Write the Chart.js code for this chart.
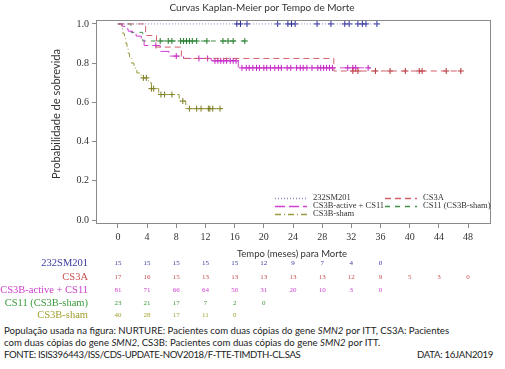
<!DOCTYPE html>
<html>
<head>
<meta charset="utf-8">
<script src="https://cdn.jsdelivr.net/npm/chart.js@4.4.0/dist/chart.umd.min.js"></script>
<style>
    body { margin: 0; background: #fff; }
    #wrap { position: relative; width: 505px; height: 369px; overflow: hidden; }
    #chart { position: absolute; left: 0; top: 0; }
    .note { position: absolute; left: 4px; font-family: Lato, 'Liberation Sans', sans-serif; font-size: 9.6px; color: #222; white-space: nowrap; }
</style>
</head>
<body>
<div id="wrap">
    <canvas id="chart" width="505" height="325"></canvas>
    <div class="note" style="top:325px">População usada na figura: NURTURE: Pacientes com duas cópias do gene <i>SMN2</i> por ITT, CS3A: Pacientes</div>
    <div class="note" style="top:337px">com duas cópias do gene <i>SMN2</i>, CS3B: Pacientes com duas cópias do gene <i>SMN2</i> por ITT.</div>
    <div class="note" style="top:349px; letter-spacing:-0.35px">FONTE: ISIS396443/ISS/CDS-UPDATE-NOV2018/F-TTE-TIMDTH-CL.SAS</div>
    <div class="note" style="top:349px; left:auto; right:12px; letter-spacing:-0.3px">DATA: 16JAN2019</div>
</div>
<script>
/**
 * Marcas do eixo X (meses) e do eixo Y.
 */
const X_TICKS = [0, 4, 8, 12, 16, 20, 24, 28, 32, 36, 40, 44, 48];
const Y_TICKS = [0, 0.2, 0.4, 0.6, 0.8, 1.0];

/**
 * Curvas em degraus: tempo do evento e sobrevida logo após.
 */
const NURTURE_TIMES = [0, 35.5];
const NURTURE_SURV = [1, 1];
const NURTURE_CENSOR = [16.3, 16.8, 17.7, 21.9, 23.3, 23.8, 24.3, 27.3, 29.2, 31.1, 31.7, 32.9, 33.5, 34.0, 35.5];

const CS3A_TIMES = [0, 3.8, 5.3, 8.7, 29.6, 47.0];
const CS3A_SURV = [1, 0.941, 0.882, 0.824, 0.760, 0.760];
const CS3A_CENSOR = [32.2, 32.9, 35.3, 37.3, 39.4, 41.3, 41.7, 45.0, 47.0];

const ACTIVE_TIMES = [0, 0.6, 1.0, 1.4, 2.0, 2.5, 3.2, 3.6, 5.8, 7.0, 9.0, 12.8, 16.5, 34.6];
const ACTIVE_SURV = [1, 0.988, 0.975, 0.963, 0.95, 0.938, 0.92, 0.89, 0.86, 0.836, 0.824, 0.812, 0.776, 0.776];
const ACTIVE_CENSOR = [5.2, 8.0, 11.1, 12.3, 13.3, 13.7, 14.1, 14.5, 14.9, 15.4, 15.8, 16.2,
    17.0, 17.6, 18.0, 18.5, 19.0, 19.4, 20.0, 20.4, 20.9, 21.5, 22.0, 22.4, 23.2, 23.7,
    24.5, 25.0, 25.4, 25.9, 26.6, 27.4, 27.8, 28.2, 28.6, 29.0, 29.4, 31.5, 32.2, 32.6, 34.3];

const CS11_TIMES = [0, 1.8, 3.4, 17.7];
const CS11_SURV = [1, 0.957, 0.913, 0.913];
const CS11_CENSOR = [5.8, 6.9, 7.4, 8.6, 9.0, 9.4, 9.8, 10.2, 10.8, 12.2, 14.4, 15.1, 15.8, 17.4];

const SHAM_TIMES = [0, 0.5, 0.7, 0.9, 1.1, 1.25, 1.4, 1.6, 1.9, 2.2, 2.6, 3.2, 4.2, 4.6, 5.6, 8.4, 9.3, 14.0];
const SHAM_SURV = [1, 0.975, 0.95, 0.925, 0.90, 0.875, 0.85, 0.825, 0.80, 0.775, 0.75, 0.725, 0.70, 0.67, 0.64, 0.607, 0.568, 0.568];
const SHAM_CENSOR = [3.5, 3.9, 4.6, 4.9, 5.9, 6.4, 7.4, 8.9, 9.8, 10.8, 11.4, 12.4, 12.6, 13.0, 14.0];

/**
 * Número em risco por grupo (nos meses de X_TICKS).
 */
const RISK_NURTURE = [15, 15, 15, 15, 15, 12, 9, 7, 4, 0];
const RISK_CS3A = [17, 16, 15, 13, 13, 13, 13, 13, 12, 9, 5, 3, 0];
const RISK_ACTIVE = [81, 71, 66, 64, 50, 31, 20, 10, 3, 0];
const RISK_CS11 = [23, 21, 17, 7, 2, 0];
const RISK_SHAM = [40, 28, 17, 11, 0];

const SERIF = "'Liberation Serif', 'DejaVu Serif', serif";
const SANS = "Lato, 'Liberation Sans', sans-serif";

const GROUPS = [
    {label: '232SM201', times: NURTURE_TIMES, surv: NURTURE_SURV, censor: NURTURE_CENSOR, risk: RISK_NURTURE,
        line: '#8a8ac8', mark: '#2a2a9a', text: '#3a3aa0', dash: [1, 2]},
    {label: 'CS3A', times: CS3A_TIMES, surv: CS3A_SURV, censor: CS3A_CENSOR, risk: RISK_CS3A,
        line: '#d0606a', mark: '#b8323a', text: '#c85050', dash: [6, 4]},
    {label: 'CS3B-active + CS11', times: ACTIVE_TIMES, surv: ACTIVE_SURV, censor: ACTIVE_CENSOR, risk: RISK_ACTIVE,
        line: '#d040d0', mark: '#c020c0', text: '#cc40cc', dash: [10, 4]},
    {label: 'CS11 (CS3B-sham)', times: CS11_TIMES, surv: CS11_SURV, censor: CS11_CENSOR, risk: RISK_CS11,
        line: '#40904a', mark: '#1f7a28', text: '#3a9a3a', dash: [5, 5]},
    {label: 'CS3B-sham', times: SHAM_TIMES, surv: SHAM_SURV, censor: SHAM_CENSOR, risk: RISK_SHAM,
        line: '#9a9a40', mark: '#7a7a20', text: '#a0a030', dash: [6, 3, 1, 3]}
];

/**
 * Sobrevida no tempo t (função em degraus).
 */
const survAt = (times, surv, t) => {
    let s = surv[0];
    for (let i = 0; i < times.length; i++) {
        if (times[i] <= t) s = surv[i];
    }
    return s;
};

const datasets = [];
GROUPS.forEach((g) => {
    datasets.push({
        data: g.times.map((t, i) => ({x: t, y: g.surv[i]})),
        showLine: true,
        stepped: 'before',
        borderColor: g.line,
        borderDash: g.dash,
        borderWidth: 1,
        pointRadius: 0
    });
    datasets.push({
        data: g.censor.map((t) => ({x: t, y: survAt(g.times, g.surv, t)})),
        showLine: false,
        pointStyle: 'cross',
        pointRadius: 3,
        borderColor: g.mark,
        borderWidth: 1
    });
});

/**
 * Moldura, títulos, legenda e tabela de número em risco.
 */
const decorPlugin = {
    id: 'decor',
    beforeDatasetsDraw(chart) {
        const {ctx, chartArea: a} = chart;
        ctx.save();
        ctx.strokeStyle = '#8a8a8a';
        ctx.lineWidth = 1;
        ctx.strokeRect(a.left + 0.5, a.top + 0.5, a.right - a.left, a.bottom - a.top);
        ctx.restore();
    },
    afterDraw(chart) {
        const {ctx} = chart;
        const xs = chart.scales.x;
        ctx.save();
        ctx.fillStyle = '#333';
        ctx.textAlign = 'center';
        ctx.textBaseline = 'middle';
        ctx.font = `10px ${SANS}`;
        ctx.fillText('Curvas Kaplan-Meier por Tempo de Morte', 262, 8);
        ctx.font = `9.5px ${SANS}`;
        ctx.fillText('Tempo (meses) para Morte', 292, 254);

        ctx.save();
        ctx.translate(56, 114);
        ctx.rotate(-Math.PI / 2);
        ctx.font = `11px ${SANS}`;
        ctx.fillText('Probabilidade de sobrevida', 0, 0);
        ctx.restore();

        // legenda
        const legend = [
            [0, 275, 198], [2, 275, 206], [4, 275, 214],
            [1, 385, 198], [3, 385, 206]
        ];
        ctx.font = `8.5px ${SERIF}`;
        ctx.textAlign = 'left';
        legend.forEach(([gi, lx, ly]) => {
            const g = GROUPS[gi];
            ctx.beginPath();
            ctx.setLineDash(g.dash);
            ctx.strokeStyle = g.line;
            ctx.lineWidth = 1.5;
            ctx.moveTo(lx, ly + 0.5);
            ctx.lineTo(lx + 32, ly + 0.5);
            ctx.stroke();
            ctx.setLineDash([]);
            ctx.fillStyle = '#333';
            ctx.fillText(g.label, lx + 38, ly);
        });

        // tabela de número em risco
        const rows = [263, 277, 290, 303, 315];
        GROUPS.forEach((g, gi) => {
            ctx.fillStyle = g.text;
            ctx.textAlign = 'right';
            ctx.font = `10.5px ${SERIF}`;
            ctx.fillText(g.label, 88, rows[gi]);
            ctx.textAlign = 'center';
            ctx.font = `7px ${SERIF}`;
            g.risk.forEach((n, i) => {
                ctx.fillText(String(n), xs.getPixelForValue(X_TICKS[i]), rows[gi]);
            });
        });
        ctx.restore();
    }
};

new Chart(document.getElementById('chart'), {
    type: 'scatter',
    data: {datasets},
    options: {
        responsive: false,
        animation: false,
        events: [],
        layout: {padding: {left: 0, right: 15, top: 20, bottom: 72}},
        plugins: {legend: {display: false}, tooltip: {enabled: false}},
        scales: {
            x: {
                type: 'linear',
                min: -3,
                max: 51,
                afterBuildTicks: (s) => { s.ticks = X_TICKS.map((v) => ({value: v})); },
                afterFit: (s) => { s.height = 30; },
                grid: {drawOnChartArea: false, tickLength: 5, color: '#8a8a8a'},
                border: {color: '#8a8a8a'},
                ticks: {color: '#333', font: {family: SERIF, size: 10}, padding: 3, maxRotation: 0, autoSkip: false}
            },
            y: {
                type: 'linear',
                min: -0.015,
                max: 1.02,
                afterBuildTicks: (s) => { s.ticks = Y_TICKS.map((v) => ({value: v})); },
                afterFit: (s) => { s.width = 96; },
                grid: {drawOnChartArea: false, tickLength: 4, color: '#8a8a8a'},
                border: {color: '#8a8a8a'},
                ticks: {color: '#333', font: {family: SERIF, size: 10}, padding: 3,
                    callback: (v) => Number(v).toFixed(1)}
            }
        }
    },
    plugins: [decorPlugin]
});
</script>
</body>
</html>
